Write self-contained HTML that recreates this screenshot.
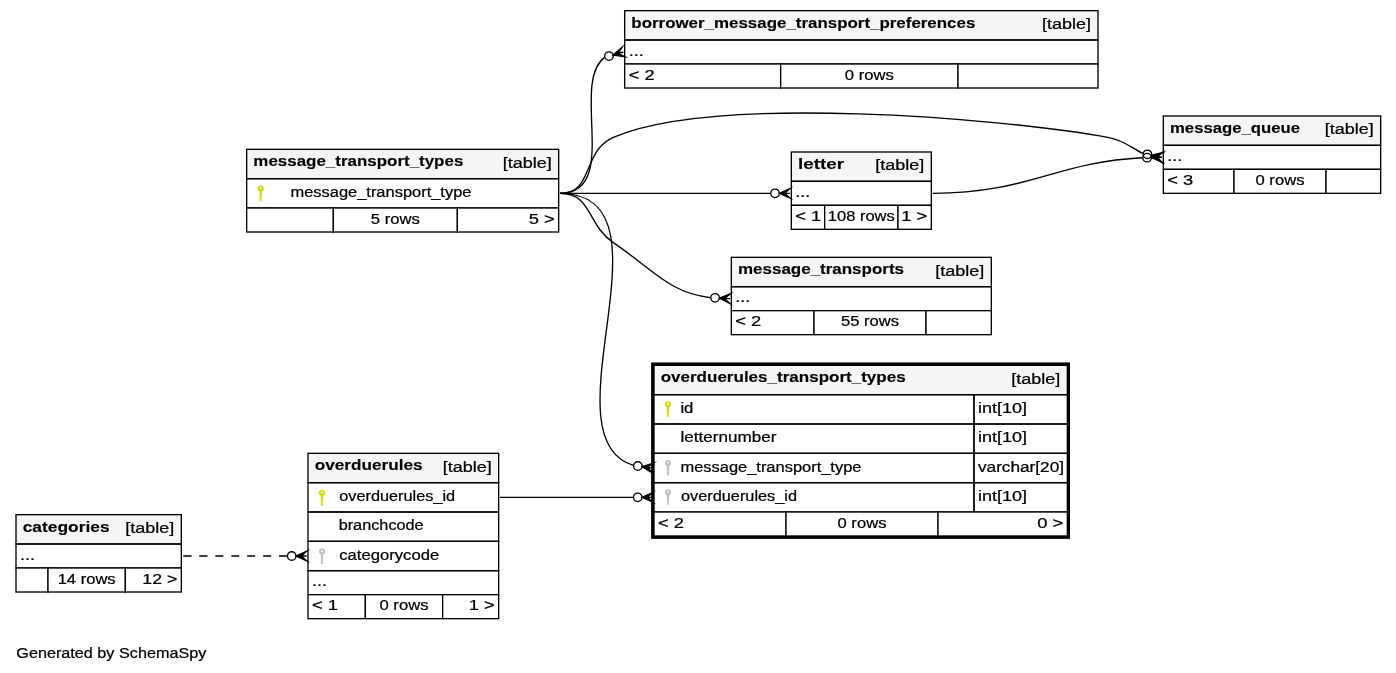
<!DOCTYPE html>
<html><head><meta charset="utf-8"><style>
html,body{margin:0;padding:0;background:#fff;width:1396px;height:673px;overflow:hidden}
svg{display:block;will-change:transform}
text{font-family:"Liberation Sans",sans-serif}
</style></head><body>
<svg width="1396" height="673" viewBox="0 0 1396 673">
<rect width="1396" height="673" fill="#fff"/>
<g transform="scale(1.333333) translate(4 501)">
<g><title>borrower_message_transport_preferences</title>
<rect x="464.0" y="-493.0" width="355.0" height="58.0" fill="#fff"/>
<rect x="464.5" y="-493.0" width="355.0" height="22.0" fill="#f5f5f5"/>
<rect x="464.5" y="-493.0" width="355.0" height="22.0" fill="none" stroke="#000"/>
<rect x="464.5" y="-471.0" width="355.0" height="18.0" fill="none" stroke="#000"/>
<rect x="464.5" y="-453.0" width="117.0" height="18.0" fill="#fff" stroke="#000"/>
<rect x="581.5" y="-453.0" width="133.0" height="18.0" fill="#fff" stroke="#000"/>
<rect x="714.5" y="-453.0" width="105.0" height="18.0" fill="#fff" stroke="#000"/>
<text x="469.500" y="-480.20" font-size="11.4" font-weight="bold" textLength="258.000" lengthAdjust="spacingAndGlyphs" fill="#000" stroke="#000" stroke-width="0.1">borrower_message_transport_preferences</text>
<text x="777.500" y="-479.20" font-size="11.4" textLength="36.750" lengthAdjust="spacingAndGlyphs" fill="#000" stroke="#000" stroke-width="0.18">[table]</text>
<text x="467.500" y="-459.20" font-size="11.4" textLength="11.250" lengthAdjust="spacingAndGlyphs" fill="#000" stroke="#000" stroke-width="0.18">...</text>
<text x="467.500" y="-441.20" font-size="11.4" textLength="19.500" lengthAdjust="spacingAndGlyphs" fill="#000" stroke="#000" stroke-width="0.18">&lt; 2</text>
<text x="629.625" y="-441.20" font-size="11.4" textLength="36.750" lengthAdjust="spacingAndGlyphs" fill="#000" stroke="#000" stroke-width="0.18">0 rows</text>
</g>
<g><title>message_transport_types</title>
<rect x="181.0" y="-389.0" width="234.0" height="62.0" fill="#fff"/>
<rect x="181.0" y="-389.0" width="234.0" height="22.0" fill="#f5f5f5"/>
<rect x="181.0" y="-389.0" width="234.0" height="22.0" fill="none" stroke="#000"/>
<rect x="181.0" y="-367.0" width="234.0" height="22.0" fill="none" stroke="#000"/>
<rect x="181.0" y="-345.0" width="65.0" height="18.0" fill="#fff" stroke="#000"/>
<rect x="246" y="-345.0" width="93" height="18.0" fill="#fff" stroke="#000"/>
<rect x="339" y="-345.0" width="76.0" height="18.0" fill="#fff" stroke="#000"/>
<text x="186.000" y="-376.20" font-size="11.4" font-weight="bold" textLength="157.500" lengthAdjust="spacingAndGlyphs" fill="#000" stroke="#000" stroke-width="0.1">message_transport_types</text>
<text x="373.000" y="-375.20" font-size="11.4" textLength="36.750" lengthAdjust="spacingAndGlyphs" fill="#000" stroke="#000" stroke-width="0.18">[table]</text>
<text x="274.125" y="-333.20" font-size="11.4" textLength="36.750" lengthAdjust="spacingAndGlyphs" fill="#000" stroke="#000" stroke-width="0.18">5 rows</text>
<text x="392.500" y="-333.20" font-size="11.4" textLength="19.500" lengthAdjust="spacingAndGlyphs" fill="#000" stroke="#000" stroke-width="0.18">5 &gt;</text>
</g>
<g><title>letter</title>
<rect x="589.0" y="-387.0" width="105.0" height="58.0" fill="#fff"/>
<rect x="589.5" y="-387.0" width="105.0" height="22.0" fill="#f5f5f5"/>
<rect x="589.5" y="-387.0" width="105.0" height="22.0" fill="none" stroke="#000"/>
<rect x="589.5" y="-365.0" width="105.0" height="18.0" fill="none" stroke="#000"/>
<rect x="589.5" y="-347.0" width="25.0" height="18.0" fill="#fff" stroke="#000"/>
<rect x="614.5" y="-347.0" width="55.0" height="18.0" fill="#fff" stroke="#000"/>
<rect x="669.5" y="-347.0" width="25.0" height="18.0" fill="#fff" stroke="#000"/>
<text x="594.500" y="-374.20" font-size="11.4" font-weight="bold" textLength="34.500" lengthAdjust="spacingAndGlyphs" fill="#000" stroke="#000" stroke-width="0.1">letter</text>
<text x="652.500" y="-373.20" font-size="11.4" textLength="36.750" lengthAdjust="spacingAndGlyphs" fill="#000" stroke="#000" stroke-width="0.18">[table]</text>
<text x="592.500" y="-353.20" font-size="11.4" textLength="11.250" lengthAdjust="spacingAndGlyphs" fill="#000" stroke="#000" stroke-width="0.18">...</text>
<text x="592.500" y="-335.20" font-size="11.4" textLength="19.500" lengthAdjust="spacingAndGlyphs" fill="#000" stroke="#000" stroke-width="0.18">&lt; 1</text>
<text x="616.875" y="-335.20" font-size="11.4" textLength="50.250" lengthAdjust="spacingAndGlyphs" fill="#000" stroke="#000" stroke-width="0.18">108 rows</text>
<text x="672.000" y="-335.20" font-size="11.4" textLength="19.500" lengthAdjust="spacingAndGlyphs" fill="#000" stroke="#000" stroke-width="0.18">1 &gt;</text>
</g>
<g><title>message_queue</title>
<rect x="868.0" y="-414.0" width="163.0" height="58.0" fill="#fff"/>
<rect x="868.5" y="-414.0" width="163.0" height="22.0" fill="#f5f5f5"/>
<rect x="868.5" y="-414.0" width="163.0" height="22.0" fill="none" stroke="#000"/>
<rect x="868.5" y="-392.0" width="163.0" height="18.0" fill="none" stroke="#000"/>
<rect x="868.5" y="-374.0" width="53.0" height="18.0" fill="#fff" stroke="#000"/>
<rect x="921.5" y="-374.0" width="69.0" height="18.0" fill="#fff" stroke="#000"/>
<rect x="990.5" y="-374.0" width="41.0" height="18.0" fill="#fff" stroke="#000"/>
<text x="873.500" y="-401.20" font-size="11.4" font-weight="bold" textLength="97.500" lengthAdjust="spacingAndGlyphs" fill="#000" stroke="#000" stroke-width="0.1">message_queue</text>
<text x="989.500" y="-400.20" font-size="11.4" textLength="36.750" lengthAdjust="spacingAndGlyphs" fill="#000" stroke="#000" stroke-width="0.18">[table]</text>
<text x="871.500" y="-380.20" font-size="11.4" textLength="11.250" lengthAdjust="spacingAndGlyphs" fill="#000" stroke="#000" stroke-width="0.18">...</text>
<text x="871.500" y="-362.20" font-size="11.4" textLength="19.500" lengthAdjust="spacingAndGlyphs" fill="#000" stroke="#000" stroke-width="0.18">&lt; 3</text>
<text x="937.625" y="-362.20" font-size="11.4" textLength="36.750" lengthAdjust="spacingAndGlyphs" fill="#000" stroke="#000" stroke-width="0.18">0 rows</text>
</g>
<g><title>message_transports</title>
<rect x="544.0" y="-308.0" width="195.0" height="58.0" fill="#fff"/>
<rect x="544.5" y="-308.0" width="195.0" height="22.0" fill="#f5f5f5"/>
<rect x="544.5" y="-308.0" width="195.0" height="22.0" fill="none" stroke="#000"/>
<rect x="544.5" y="-286.0" width="195.0" height="18.0" fill="none" stroke="#000"/>
<rect x="544.5" y="-268.0" width="62.0" height="18.0" fill="#fff" stroke="#000"/>
<rect x="606.5" y="-268.0" width="84.0" height="18.0" fill="#fff" stroke="#000"/>
<rect x="690.5" y="-268.0" width="49.0" height="18.0" fill="#fff" stroke="#000"/>
<text x="549.500" y="-295.20" font-size="11.4" font-weight="bold" textLength="124.500" lengthAdjust="spacingAndGlyphs" fill="#000" stroke="#000" stroke-width="0.1">message_transports</text>
<text x="697.500" y="-294.20" font-size="11.4" textLength="36.750" lengthAdjust="spacingAndGlyphs" fill="#000" stroke="#000" stroke-width="0.18">[table]</text>
<text x="547.500" y="-274.20" font-size="11.4" textLength="11.250" lengthAdjust="spacingAndGlyphs" fill="#000" stroke="#000" stroke-width="0.18">...</text>
<text x="547.500" y="-256.20" font-size="11.4" textLength="19.500" lengthAdjust="spacingAndGlyphs" fill="#000" stroke="#000" stroke-width="0.18">&lt; 2</text>
<text x="626.750" y="-256.20" font-size="11.4" textLength="43.500" lengthAdjust="spacingAndGlyphs" fill="#000" stroke="#000" stroke-width="0.18">55 rows</text>
</g>
<g><title>overduerules</title>
<rect x="226.5" y="-161.0" width="143.0" height="124.0" fill="#fff"/>
<rect x="227.0" y="-161.0" width="143.0" height="22.0" fill="#f5f5f5"/>
<rect x="227.0" y="-161.0" width="143.0" height="22.0" fill="none" stroke="#000"/>
<rect x="227.0" y="-139.0" width="143.0" height="22.0" fill="none" stroke="#000"/>
<rect x="227.0" y="-117.0" width="143.0" height="22.0" fill="none" stroke="#000"/>
<rect x="227.0" y="-95.0" width="143.0" height="22.0" fill="none" stroke="#000"/>
<rect x="227.0" y="-73.0" width="143.0" height="18.0" fill="none" stroke="#000"/>
<rect x="227.0" y="-55.0" width="43.0" height="18.0" fill="#fff" stroke="#000"/>
<rect x="270" y="-55.0" width="58" height="18.0" fill="#fff" stroke="#000"/>
<rect x="328" y="-55.0" width="42.0" height="18.0" fill="#fff" stroke="#000"/>
<text x="232.000" y="-148.20" font-size="11.4" font-weight="bold" textLength="81.000" lengthAdjust="spacingAndGlyphs" fill="#000" stroke="#000" stroke-width="0.1">overduerules</text>
<text x="328.000" y="-147.20" font-size="11.4" textLength="36.750" lengthAdjust="spacingAndGlyphs" fill="#000" stroke="#000" stroke-width="0.18">[table]</text>
<text x="230.000" y="-61.20" font-size="11.4" textLength="11.250" lengthAdjust="spacingAndGlyphs" fill="#000" stroke="#000" stroke-width="0.18">...</text>
<text x="230.000" y="-43.20" font-size="11.4" textLength="19.500" lengthAdjust="spacingAndGlyphs" fill="#000" stroke="#000" stroke-width="0.18">&lt; 1</text>
<text x="280.625" y="-43.20" font-size="11.4" textLength="36.750" lengthAdjust="spacingAndGlyphs" fill="#000" stroke="#000" stroke-width="0.18">0 rows</text>
<text x="347.500" y="-43.20" font-size="11.4" textLength="19.500" lengthAdjust="spacingAndGlyphs" fill="#000" stroke="#000" stroke-width="0.18">1 &gt;</text>
</g>
<g><title>categories</title>
<rect x="8.0" y="-115.0" width="124.0" height="58.0" fill="#fff"/>
<rect x="8.0" y="-115.0" width="124.0" height="22.0" fill="#f5f5f5"/>
<rect x="8.0" y="-115.0" width="124.0" height="22.0" fill="none" stroke="#000"/>
<rect x="8.0" y="-93.0" width="124.0" height="18.0" fill="none" stroke="#000"/>
<rect x="8.0" y="-75.0" width="24.0" height="18.0" fill="#fff" stroke="#000"/>
<rect x="32" y="-75.0" width="58" height="18.0" fill="#fff" stroke="#000"/>
<rect x="90" y="-75.0" width="42.0" height="18.0" fill="#fff" stroke="#000"/>
<text x="13.000" y="-102.20" font-size="11.4" font-weight="bold" textLength="65.250" lengthAdjust="spacingAndGlyphs" fill="#000" stroke="#000" stroke-width="0.1">categories</text>
<text x="90.000" y="-101.20" font-size="11.4" textLength="36.750" lengthAdjust="spacingAndGlyphs" fill="#000" stroke="#000" stroke-width="0.18">[table]</text>
<text x="11.000" y="-81.20" font-size="11.4" textLength="11.250" lengthAdjust="spacingAndGlyphs" fill="#000" stroke="#000" stroke-width="0.18">...</text>
<text x="39.250" y="-63.20" font-size="11.4" textLength="43.500" lengthAdjust="spacingAndGlyphs" fill="#000" stroke="#000" stroke-width="0.18">14 rows</text>
<text x="102.750" y="-63.20" font-size="11.4" textLength="26.250" lengthAdjust="spacingAndGlyphs" fill="#000" stroke="#000" stroke-width="0.18">12 &gt;</text>
</g>
<g><title>overduerules_transport_types</title>
<rect x="484.5" y="-229.0" width="314.0" height="132.0" fill="#fff"/>
<rect x="486.5" y="-227.0" width="310.0" height="22.0" fill="#f5f5f5"/>
<rect x="486.5" y="-227.0" width="310.0" height="22.0" fill="none" stroke="#000"/>
<rect x="486.5" y="-205.0" width="240.0" height="22.0" fill="none" stroke="#000"/>
<rect x="726.5" y="-205.0" width="70.0" height="22.0" fill="none" stroke="#000"/>
<rect x="486.5" y="-183.0" width="240.0" height="22.0" fill="none" stroke="#000"/>
<rect x="726.5" y="-183.0" width="70.0" height="22.0" fill="none" stroke="#000"/>
<rect x="486.5" y="-161.0" width="240.0" height="22.0" fill="none" stroke="#000"/>
<rect x="726.5" y="-161.0" width="70.0" height="22.0" fill="none" stroke="#000"/>
<rect x="486.5" y="-139.0" width="240.0" height="22.0" fill="none" stroke="#000"/>
<rect x="726.5" y="-139.0" width="70.0" height="22.0" fill="none" stroke="#000"/>
<rect x="485.5" y="-228.0" width="312.0" height="130.0" fill="none" stroke="#000" stroke-width="2"/>
<rect x="486.5" y="-117.0" width="99.0" height="18.0" fill="#fff" stroke="#000"/>
<rect x="585.5" y="-117.0" width="114.0" height="18.0" fill="#fff" stroke="#000"/>
<rect x="699.5" y="-117.0" width="97.0" height="18.0" fill="#fff" stroke="#000"/>
<rect x="485.5" y="-228.0" width="312.0" height="130.0" fill="none" stroke="#000" stroke-width="2"/>
<text x="491.500" y="-214.20" font-size="11.4" font-weight="bold" textLength="183.750" lengthAdjust="spacingAndGlyphs" fill="#000" stroke="#000" stroke-width="0.1">overduerules_transport_types</text>
<text x="754.500" y="-213.20" font-size="11.4" textLength="36.750" lengthAdjust="spacingAndGlyphs" fill="#000" stroke="#000" stroke-width="0.18">[table]</text>
<text x="489.500" y="-105.20" font-size="11.4" textLength="19.500" lengthAdjust="spacingAndGlyphs" fill="#000" stroke="#000" stroke-width="0.18">&lt; 2</text>
<text x="624.125" y="-105.20" font-size="11.4" textLength="36.750" lengthAdjust="spacingAndGlyphs" fill="#000" stroke="#000" stroke-width="0.18">0 rows</text>
<text x="774.000" y="-105.20" font-size="11.4" textLength="19.500" lengthAdjust="spacingAndGlyphs" fill="#000" stroke="#000" stroke-width="0.18">0 &gt;</text>
</g>
<path fill="none" stroke="#000" d="M449.43,-457.97C423.47,-438.61 461.58,-356 416,-356"/>
<polygon stroke-miterlimit="10" fill="#000" stroke="#000" points="455.81,-459.8 462.51,-465.46 459.65,-460.9 463.5,-462 463.5,-462 463.5,-462 459.65,-460.9 464.49,-458.54 455.81,-459.8 455.81,-459.8"/>
<ellipse fill="none" stroke="#000" cx="452.73" cy="-458.92" rx="3.2" ry="3.2"/>
<path fill="none" stroke="#000" d="M573.95,-356C509.03,-356 487.58,-356 416,-356"/>
<polygon stroke-miterlimit="10" fill="#000" stroke="#000" points="580.5,-356 588.5,-359.6 584.5,-356 588.5,-356 588.5,-356 588.5,-356 584.5,-356 588.5,-352.4 580.5,-356 580.5,-356"/>
<ellipse fill="none" stroke="#000" cx="577.3" cy="-356" rx="3.2" ry="3.2"/>
<path fill="none" stroke="#000" d="M853.13,-385.92C845.07,-389.6 839.84,-395.7 827,-398 745.85,-412.55 531.78,-430.48 456,-398 432.31,-387.85 441.78,-356 416,-356"/>
<polygon stroke-miterlimit="10" fill="#000" stroke="#000" points="859.66,-384.59 868.22,-386.53 863.58,-383.8 867.5,-383 867.5,-383 867.5,-383 863.58,-383.8 866.78,-379.47 859.66,-384.59 859.66,-384.59"/>
<ellipse fill="none" stroke="#000" cx="856.52" cy="-385.23" rx="3.2" ry="3.2"/>
<path fill="none" stroke="#000" d="M852.84,-382.66C787.56,-379.53 767.74,-356 695.5,-356"/>
<polygon stroke-miterlimit="10" fill="#000" stroke="#000" points="859.5,-382.81 867.42,-386.6 863.5,-382.91 867.5,-383 867.5,-383 867.5,-383 863.5,-382.91 867.58,-379.4 859.5,-382.81 859.5,-382.81"/>
<ellipse fill="none" stroke="#000" cx="856.3" cy="-382.74" rx="3.2" ry="3.2"/>
<path fill="none" stroke="#000" d="M528.82,-277.81C497.77,-281.54 487.22,-297.78 456,-319 435.97,-332.61 440.22,-356 416,-356"/>
<polygon stroke-miterlimit="10" fill="#000" stroke="#000" points="535.51,-277.44 543.7,-280.59 539.51,-277.22 543.5,-277 543.5,-277 543.5,-277 539.51,-277.22 543.3,-273.41 535.51,-277.44 535.51,-277.44"/>
<ellipse fill="none" stroke="#000" cx="532.32" cy="-277.62" rx="3.2" ry="3.2"/>
<path fill="none" stroke="#000" stroke-dasharray="6,6" d="M211.43,-84C181.49,-84 169.01,-84 133,-84"/>
<polygon stroke-miterlimit="10" fill="#000" stroke="#000" points="218,-84 226,-87.6 222,-84 226,-84 226,-84 226,-84 222,-84 226,-80.4 218,-84 218,-84"/>
<ellipse fill="none" stroke="#000" cx="214.8" cy="-84" rx="3.2" ry="3.2"/>
<path fill="none" stroke="#000" d="M471.12,-151.91C402.19,-172.68 507.15,-356 416,-356"/>
<polygon stroke-miterlimit="10" fill="#000" stroke="#000" points="477.57,-151.05 485.97,-153.57 481.53,-150.53 485.5,-150 485.5,-150 485.5,-150 481.53,-150.53 485.03,-146.43 477.57,-151.05 477.57,-151.05"/>
<ellipse fill="none" stroke="#000" cx="474.4" cy="-151.47" rx="3.2" ry="3.2"/>
<path fill="none" stroke="#000" d="M471.1,-128C431.63,-128 416.72,-128 371,-128"/>
<polygon stroke-miterlimit="10" fill="#000" stroke="#000" points="477.5,-128 485.5,-131.6 481.5,-128 485.5,-128 485.5,-128 485.5,-128 481.5,-128 485.5,-124.4 477.5,-128 477.5,-128"/>
<ellipse fill="none" stroke="#000" cx="474.3" cy="-128" rx="3.2" ry="3.2"/>
<text x="8.250" y="-7.20" font-size="11.4" textLength="142.500" lengthAdjust="spacingAndGlyphs" fill="#000" stroke="#000" stroke-width="0.18">Generated by SchemaSpy</text>
<text x="213.851" y="-353.20" font-size="11.4" textLength="135.750" lengthAdjust="spacingAndGlyphs" fill="#000" stroke="#000" stroke-width="0.18">message_transport_type</text>
<text x="506.313" y="-191.20" font-size="11.4" textLength="9.750" lengthAdjust="spacingAndGlyphs" fill="#000" stroke="#000" stroke-width="0.18">id</text>
<text x="729.500" y="-191.20" font-size="11.4" textLength="36.750" lengthAdjust="spacingAndGlyphs" fill="#000" stroke="#000" stroke-width="0.18">int[10]</text>
<text x="506.313" y="-169.20" font-size="11.4" textLength="72.000" lengthAdjust="spacingAndGlyphs" fill="#000" stroke="#000" stroke-width="0.18">letternumber</text>
<text x="729.500" y="-169.20" font-size="11.4" textLength="36.750" lengthAdjust="spacingAndGlyphs" fill="#000" stroke="#000" stroke-width="0.18">int[10]</text>
<text x="506.351" y="-147.20" font-size="11.4" textLength="135.750" lengthAdjust="spacingAndGlyphs" fill="#000" stroke="#000" stroke-width="0.18">message_transport_type</text>
<text x="729.500" y="-147.20" font-size="11.4" textLength="64.500" lengthAdjust="spacingAndGlyphs" fill="#000" stroke="#000" stroke-width="0.18">varchar[20]</text>
<text x="506.743" y="-125.20" font-size="11.4" textLength="87.000" lengthAdjust="spacingAndGlyphs" fill="#000" stroke="#000" stroke-width="0.18">overduerules_id</text>
<text x="729.500" y="-125.20" font-size="11.4" textLength="36.750" lengthAdjust="spacingAndGlyphs" fill="#000" stroke="#000" stroke-width="0.18">int[10]</text>
<text x="250.393" y="-125.20" font-size="11.4" textLength="87.000" lengthAdjust="spacingAndGlyphs" fill="#000" stroke="#000" stroke-width="0.18">overduerules_id</text>
<text x="250.001" y="-103.20" font-size="11.4" textLength="63.750" lengthAdjust="spacingAndGlyphs" fill="#000" stroke="#000" stroke-width="0.18">branchcode</text>
<text x="250.393" y="-81.20" font-size="11.4" textLength="75.000" lengthAdjust="spacingAndGlyphs" fill="#000" stroke="#000" stroke-width="0.18">categorycode</text>
</g>
<g fill="#d2dc00"><circle cx="260.70" cy="188.50" r="3.1"/><rect x="259.55" y="188.50" width="2.3" height="12.40"/></g><rect x="259.85" y="187.20" width="1.7" height="1.7" fill="#fff"/><rect x="261.15" y="196.40" width="0.9" height="1.0" fill="#fff"/><rect x="261.15" y="198.60" width="0.9" height="1.0" fill="#fff"/>
<g fill="#d2dc00"><circle cx="668.00" cy="404.37" r="3.1"/><rect x="666.85" y="404.37" width="2.3" height="12.40"/></g><rect x="667.15" y="403.07" width="1.7" height="1.7" fill="#fff"/><rect x="668.45" y="412.27" width="0.9" height="1.0" fill="#fff"/><rect x="668.45" y="414.47" width="0.9" height="1.0" fill="#fff"/>
<g fill="#c0c0c0"><circle cx="668.00" cy="463.03" r="3.1"/><rect x="666.85" y="463.03" width="2.3" height="12.40"/></g><rect x="667.15" y="461.73" width="1.7" height="1.7" fill="#fff"/><rect x="668.45" y="470.93" width="0.9" height="1.0" fill="#fff"/><rect x="668.45" y="473.13" width="0.9" height="1.0" fill="#fff"/>
<g fill="#c0c0c0"><circle cx="668.00" cy="492.37" r="3.1"/><rect x="666.85" y="492.37" width="2.3" height="12.40"/></g><rect x="667.15" y="491.07" width="1.7" height="1.7" fill="#fff"/><rect x="668.45" y="500.27" width="0.9" height="1.0" fill="#fff"/><rect x="668.45" y="502.47" width="0.9" height="1.0" fill="#fff"/>
<g fill="#d2dc00"><circle cx="322.00" cy="492.80" r="3.1"/><rect x="320.85" y="492.80" width="2.3" height="12.40"/></g><rect x="321.15" y="491.50" width="1.7" height="1.7" fill="#fff"/><rect x="322.45" y="500.70" width="0.9" height="1.0" fill="#fff"/><rect x="322.45" y="502.90" width="0.9" height="1.0" fill="#fff"/>
<g fill="#c0c0c0"><circle cx="322.00" cy="551.60" r="3.1"/><rect x="320.85" y="551.60" width="2.3" height="12.40"/></g><rect x="321.15" y="550.30" width="1.7" height="1.7" fill="#fff"/><rect x="322.45" y="559.50" width="0.9" height="1.0" fill="#fff"/><rect x="322.45" y="561.70" width="0.9" height="1.0" fill="#fff"/>
</svg>
</body></html>
